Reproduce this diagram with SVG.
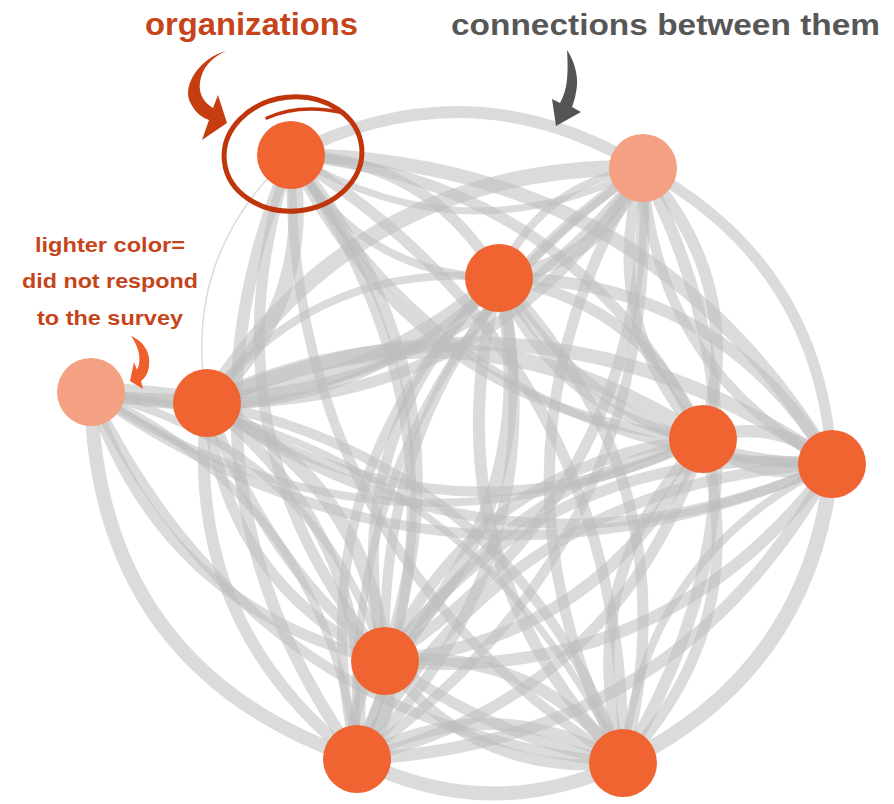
<svg xmlns="http://www.w3.org/2000/svg" width="894" height="804" viewBox="0 0 894 804">
  <defs>
    <style>
      .e { fill: none; stroke: #bdbdbd; stroke-opacity: 0.55; }
      .org { fill: #f06431; }
      .org-nr { fill: #f4a082; }
      .lbl { font-family: "Liberation Sans Narrow", "Liberation Sans", Arial, sans-serif; font-weight: bold; }
      .red { fill: #c6441a; }
      .grey { fill: #575757; }
    </style>
  </defs>
  <rect width="894" height="804" fill="#ffffff"/>

  <!-- connections: curved ties between organizations, width = strength -->
  <g id="connectors">
    <path class="e" stroke-width="12" d="M291,155 Q471,63 643,168"/>
    <path class="e" stroke-width="7" d="M291,155 Q463,260 643,168"/>
    <path class="e" stroke-width="11" d="M291,155 Q429,158 499,278"/>
    <path class="e" stroke-width="8" d="M291,155 Q361,275 499,278"/>
    <path class="e" stroke-width="1.5" d="M291,155 Q180,256 207,403"/>
    <path class="e" stroke-width="15" d="M291,155 Q318,303 207,403"/>
    <path class="e" stroke-width="11" d="M291,155 Q577,182 703,439"/>
    <path class="e" stroke-width="10" d="M291,155 Q418,412 703,439"/>
    <path class="e" stroke-width="14" d="M291,155 Q648,158 832,464"/>
    <path class="e" stroke-width="8" d="M291,155 Q475,461 832,464"/>
    <path class="e" stroke-width="12" d="M291,155 Q480,382 385,661"/>
    <path class="e" stroke-width="11" d="M291,155 Q196,434 385,661"/>
    <path class="e" stroke-width="10" d="M291,155 Q493,439 357,759"/>
    <path class="e" stroke-width="12" d="M291,155 Q155,476 357,759"/>
    <path class="e" stroke-width="11" d="M291,155 Q627,366 623,763"/>
    <path class="e" stroke-width="10" d="M291,155 Q287,552 623,763"/>

    <path class="e" stroke-width="14" d="M643,168 Q602,263 499,278"/>
    <path class="e" stroke-width="8" d="M643,168 Q540,183 499,278"/>
    <path class="e" stroke-width="8" d="M643,168 Q430,435 91,392"/>
    <path class="e" stroke-width="11" d="M643,168 Q491,408 207,403"/>
    <path class="e" stroke-width="16" d="M643,168 Q359,163 207,403"/>
    <path class="e" stroke-width="12" d="M643,168 Q749,287 703,439"/>
    <path class="e" stroke-width="11" d="M643,168 Q597,320 703,439"/>
    <path class="e" stroke-width="11" d="M643,168 Q820,263 832,464"/>
    <path class="e" stroke-width="10" d="M643,168 Q655,369 832,464"/>
    <path class="e" stroke-width="11" d="M643,168 Q652,487 385,661"/>
    <path class="e" stroke-width="10" d="M643,168 Q376,342 385,661"/>
    <path class="e" stroke-width="10" d="M643,168 Q666,544 357,759"/>
    <path class="e" stroke-width="8" d="M643,168 Q335,383 357,759"/>
    <path class="e" stroke-width="12" d="M643,168 Q800,471 623,763"/>
    <path class="e" stroke-width="11" d="M643,168 Q466,460 623,763"/>

    <path class="e" stroke-width="8" d="M499,278 Q327,449 91,392"/>
    <path class="e" stroke-width="18" d="M499,278 Q373,387 207,403"/>
    <path class="e" stroke-width="8" d="M499,278 Q318,259 207,403"/>
    <path class="e" stroke-width="11" d="M499,278 Q646,302 703,439"/>
    <path class="e" stroke-width="10" d="M499,278 Q556,416 703,439"/>
    <path class="e" stroke-width="12" d="M499,278 Q718,278 832,464"/>
    <path class="e" stroke-width="11" d="M499,278 Q614,464 832,464"/>
    <path class="e" stroke-width="14" d="M499,278 Q549,501 385,661"/>
    <path class="e" stroke-width="11" d="M499,278 Q335,438 385,661"/>
    <path class="e" stroke-width="11" d="M499,278 Q563,558 357,759"/>
    <path class="e" stroke-width="10" d="M499,278 Q293,479 357,759"/>
    <path class="e" stroke-width="11" d="M499,278 Q697,486 623,763"/>
    <path class="e" stroke-width="12" d="M499,278 Q425,555 623,763"/>

    <path class="e" stroke-width="20" d="M91,392 Q149,394 207,403"/>
    <path class="e" stroke-width="8" d="M91,392 Q384,587 703,439"/>
    <path class="e" stroke-width="10" d="M91,392 Q441,636 832,464"/>
    <path class="e" stroke-width="8" d="M91,392 Q313,444 385,661"/>
    <path class="e" stroke-width="11" d="M91,392 Q163,609 385,661"/>
    <path class="e" stroke-width="14" d="M91,392 Q96,669 357,759"/>
    <path class="e" stroke-width="8" d="M91,392 Q327,501 357,759"/>
    <path class="e" stroke-width="10" d="M91,392 Q253,727 623,763"/>
    <path class="e" stroke-width="7" d="M91,392 Q461,429 623,763"/>

    <path class="e" stroke-width="16" d="M207,403 Q465,282 703,439"/>
    <path class="e" stroke-width="10" d="M207,403 Q445,560 703,439"/>
    <path class="e" stroke-width="14" d="M207,403 Q537,259 832,464"/>
    <path class="e" stroke-width="10" d="M207,403 Q503,609 832,464"/>
    <path class="e" stroke-width="14" d="M207,403 Q368,482 385,661"/>
    <path class="e" stroke-width="11" d="M207,403 Q224,582 385,661"/>
    <path class="e" stroke-width="11" d="M207,403 Q382,539 357,759"/>
    <path class="e" stroke-width="12" d="M207,403 Q182,623 357,759"/>
    <path class="e" stroke-width="10" d="M207,403 Q516,467 623,763"/>
    <path class="e" stroke-width="11" d="M207,403 Q314,700 623,763"/>

    <path class="e" stroke-width="12" d="M703,439 Q775,415 832,464"/>
    <path class="e" stroke-width="11" d="M703,439 Q761,488 832,464"/>
    <path class="e" stroke-width="12" d="M703,439 Q606,639 385,661"/>
    <path class="e" stroke-width="11" d="M703,439 Q482,461 385,661"/>
    <path class="e" stroke-width="11" d="M703,439 Q620,696 357,759"/>
    <path class="e" stroke-width="10" d="M703,439 Q440,502 357,759"/>
    <path class="e" stroke-width="11" d="M703,439 Q754,623 623,763"/>
    <path class="e" stroke-width="11" d="M703,439 Q572,579 623,763"/>

    <path class="e" stroke-width="12" d="M832,464 Q664,688 385,661"/>
    <path class="e" stroke-width="11" d="M832,464 Q553,437 385,661"/>
    <path class="e" stroke-width="12" d="M832,464 Q677,745 357,759"/>
    <path class="e" stroke-width="11" d="M832,464 Q512,479 357,759"/>
    <path class="e" stroke-width="15" d="M832,464 Q811,672 623,763"/>
    <path class="e" stroke-width="8" d="M832,464 Q644,555 623,763"/>

    <path class="e" stroke-width="14" d="M385,661 Q398,718 357,759"/>
    <path class="e" stroke-width="11" d="M385,661 Q344,702 357,759"/>
    <path class="e" stroke-width="12" d="M385,661 Q533,645 623,763"/>
    <path class="e" stroke-width="11" d="M385,661 Q475,779 623,763"/>

    <path class="e" stroke-width="14" d="M357,759 Q489,826 623,763"/>
    <path class="e" stroke-width="12" d="M357,759 Q491,687 623,763"/>
  </g>

  <!-- organizations -->
  <g id="org-a"><circle class="org" cx="291" cy="155" r="34"/></g>
  <g id="org-b"><circle class="org-nr" cx="643" cy="168" r="34"/></g>
  <g id="org-c"><circle class="org" cx="499" cy="278" r="34"/></g>
  <g id="org-d"><circle class="org-nr" cx="91" cy="392" r="34"/></g>
  <g id="org-e"><circle class="org" cx="207" cy="403" r="34"/></g>
  <g id="org-f"><circle class="org" cx="703" cy="439" r="34"/></g>
  <g id="org-g"><circle class="org" cx="832" cy="464" r="34"/></g>
  <g id="org-h"><circle class="org" cx="385" cy="661" r="34"/></g>
  <g id="org-i"><circle class="org" cx="357" cy="759" r="34"/></g>
  <g id="org-j"><circle class="org" cx="623" cy="763" r="34"/></g>

  <!-- callouts -->
  <g id="callout-organizations">
    <text class="lbl red" x="145" y="35" font-size="32" textLength="213" lengthAdjust="spacingAndGlyphs">organizations</text>
    <path fill="#c63d10" d="M226,51 C200,58 182,85 190,102 C195,113 203,118 209,120 L202,140 L227,123 L218,95 L213,108 C205,103 198,95 200,82 C202,68 212,57 226,51 Z"/>
    <ellipse cx="293" cy="154" rx="69" ry="57" transform="rotate(-6 293 154)" fill="none" stroke="#bf360c" stroke-width="5"/>
    <path d="M267,118 Q300,103 344,113" fill="none" stroke="#bf360c" stroke-width="3.5" stroke-linecap="round"/>
  </g>
  <g id="callout-connections">
    <text class="lbl grey" x="451" y="35" font-size="29" textLength="429" lengthAdjust="spacingAndGlyphs">connections between them</text>
    <path fill="#555555" d="M567,50 C574,60 578,75 577,85 C576,95 574,102 572,107 L581,112 L556,126 L552,99 L560,103 C566,92 569,80 567,50 Z"/>
  </g>
  <g id="callout-lighter">
    <text class="lbl red" x="110" y="252" font-size="21" text-anchor="middle" textLength="150" lengthAdjust="spacingAndGlyphs">lighter color=</text>
    <text class="lbl red" x="110" y="288" font-size="21" text-anchor="middle" textLength="176" lengthAdjust="spacingAndGlyphs">did not respond</text>
    <text class="lbl red" x="110" y="325" font-size="21" text-anchor="middle" textLength="146" lengthAdjust="spacingAndGlyphs">to the survey</text>
    <path fill="#ef5f2c" d="M131,336 C143,341 151,352 149,366 C148,373 146,377 141,381 L143,389 L130,381 L134,362 L137,370 C141,363 141,350 131,336 Z"/>
  </g>
</svg>
